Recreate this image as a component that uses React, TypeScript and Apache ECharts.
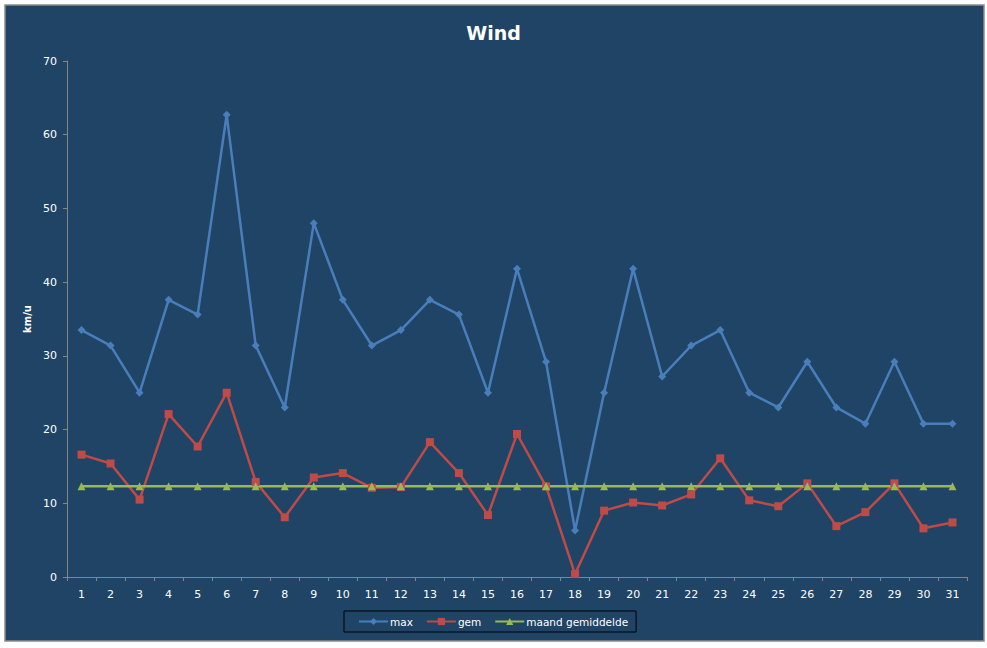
import React, { useEffect, useRef } from 'react';
import * as echarts from 'echarts';

const days = Array.from({ length: 31 }, (_, i) => String(i + 1));

const maxValues = [
  33.5, 31.4, 25.0, 37.6, 35.6, 62.7, 31.4, 23.0, 48.0, 37.6,
  31.4, 33.5, 37.6, 35.6, 25.0, 41.8, 29.2, 6.3, 25.0, 41.8,
  27.2, 31.4, 33.5, 25.0, 23.0, 29.2, 23.0, 20.8, 29.2, 20.8, 20.8
];

const gemValues = [
  16.6, 15.4, 10.5, 22.1, 17.7, 25.0, 12.9, 8.1, 13.5, 14.1,
  12.1, 12.2, 18.3, 14.1, 8.4, 19.4, 12.3, 0.4, 9.0, 10.1,
  9.7, 11.2, 16.1, 10.4, 9.6, 12.7, 6.9, 8.8, 12.7, 6.6, 7.4
];

const monthAverage = 12.3;
const avgValues = days.map(() => monthAverage);

const font = '"DejaVu Sans", Verdana, sans-serif';

const App: React.FC = () => {
  const chartRef = useRef<HTMLDivElement>(null);

  useEffect(() => {
    if (!chartRef.current) return;
    const chart = echarts.init(chartRef.current, null, { renderer: 'svg' });

    const option: echarts.EChartsOption = {
      animation: false,
      backgroundColor: '#ffffff',
      graphic: [
        {
          type: 'rect',
          z: -10,
          shape: { x: 5, y: 5, width: 979, height: 636 },
          style: { fill: '#1F4466', stroke: '#8C8C8C', lineWidth: 1.5 }
        }
      ],
      title: {
        text: 'Wind',
        left: 'center',
        top: 18,
        textStyle: { color: '#ffffff', fontSize: 19, fontWeight: 'bold', fontFamily: font }
      },
      legend: {
        left: 344,
        top: 611,
        padding: [5, 8, 5, 14],
        itemGap: 13,
        itemWidth: 29,
        itemHeight: 9,
        borderColor: '#000000',
        borderWidth: 1,
        textStyle: { color: '#ffffff', fontSize: 10.5, fontFamily: font, padding: [0, 0, 0, -3] },
        data: ['max', 'gem', 'maand gemiddelde']
      },
      grid: { left: 67, right: 20, top: 61, bottom: 71 },
      xAxis: {
        type: 'category',
        data: days,
        boundaryGap: true,
        axisLine: { lineStyle: { color: '#868686', width: 1 } },
        axisTick: { show: true, length: 4, lineStyle: { color: '#868686' } },
        axisLabel: { color: '#ffffff', fontSize: 11, fontFamily: font, margin: 12 },
        splitLine: { show: false }
      },
      yAxis: {
        type: 'value',
        min: 0,
        max: 70,
        interval: 10,
        name: 'km/u',
        nameLocation: 'middle',
        nameGap: 35,
        nameRotate: 90,
        nameTextStyle: { color: '#ffffff', fontSize: 10, fontWeight: 'bold', fontFamily: font },
        axisLine: { show: true, lineStyle: { color: '#868686', width: 1 } },
        axisTick: { show: true, length: 4, lineStyle: { color: '#868686' } },
        axisLabel: { color: '#ffffff', fontSize: 11, fontFamily: font, margin: 10 },
        splitLine: { show: false }
      },
      series: [
        {
          name: 'max',
          type: 'line',
          data: maxValues,
          symbol: 'diamond',
          symbolSize: 8,
          lineStyle: { color: '#4A7EBB', width: 2.5 },
          itemStyle: { color: '#4A7EBB' }
        },
        {
          name: 'gem',
          type: 'line',
          data: gemValues,
          symbol: 'rect',
          symbolSize: 8,
          lineStyle: { color: '#BE4B48', width: 2.5 },
          itemStyle: { color: '#BE4B48' }
        },
        {
          name: 'maand gemiddelde',
          type: 'line',
          data: avgValues,
          symbol: 'triangle',
          symbolSize: 8,
          lineStyle: { color: '#98B954', width: 2.5 },
          itemStyle: { color: '#98B954' }
        }
      ]
    };

    chart.setOption(option);
    return () => {
      chart.dispose();
    };
  }, []);

  return (
    <div style={{ position: 'absolute', left: 0, top: 0, width: 987, height: 648 }}>
      <div ref={chartRef} style={{ width: 987, height: 648 }} />
    </div>
  );
};

export default App;
